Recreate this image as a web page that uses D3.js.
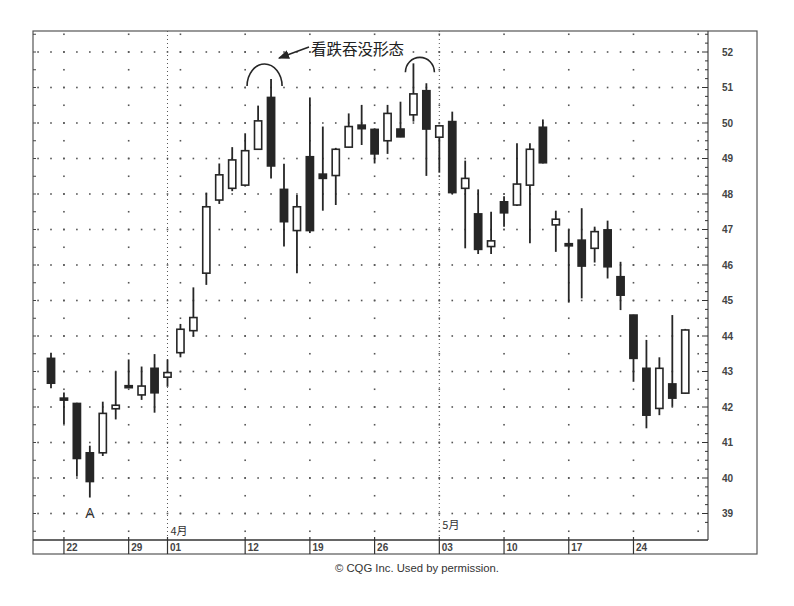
<!DOCTYPE html>
<html lang="zh">
<head>
  <meta charset="utf-8" />
  <title>看跌吞没形态</title>
  <script src="https://d3js.org/d3.v7.min.js"></script>
  <style>
    html, body { margin: 0; padding: 0; background: #fff; }
    svg { display: block; }
  </style>
</head>
<body>
  <svg id="chart" width="794" height="606"></svg>
  <script>
    // trading days (1999), one candle each
    const dates = [
      '3/19', '3/22', '3/23', '3/24', '3/25', '3/26', '3/29', '3/30', '3/31',
      '4/1', '4/5', '4/6', '4/7', '4/8', '4/9', '4/12', '4/13', '4/14', '4/15', '4/16',
      '4/19', '4/20', '4/21', '4/22', '4/23', '4/26', '4/27', '4/28', '4/29', '4/30',
      '5/3', '5/4', '5/5', '5/6', '5/7', '5/10', '5/11', '5/12', '5/13', '5/14',
      '5/17', '5/18', '5/19', '5/20', '5/21', '5/24', '5/25', '5/26', '5/27', '5/28'
    ];
    const open  = [43.37, 42.25, 42.10, 40.71, 40.71, 41.95, 42.60, 42.34, 43.09, 42.84,
                   43.53, 44.15, 45.77, 47.83, 48.16, 48.25, 49.26, 50.72, 48.13, 46.97,
                   49.05, 48.56, 48.52, 49.32, 49.94, 49.82, 49.50, 49.83, 50.23, 50.91,
                   49.60, 50.04, 48.16, 47.44, 46.52, 47.78, 47.69, 48.25, 49.88, 47.13,
                   46.60, 46.70, 46.47, 46.99, 45.67, 44.59, 43.09, 41.96, 42.65, 42.39];
    const high  = [43.53, 42.41, 42.12, 40.91, 42.15, 43.00, 43.34, 43.14, 43.49, 43.34,
                   44.34, 45.37, 48.04, 48.86, 49.32, 49.71, 50.49, 51.24, 48.85, 47.97,
                   50.72, 49.90, 49.30, 50.27, 50.51, 49.85, 50.51, 50.60, 51.68, 51.12,
                   49.95, 50.32, 48.94, 48.13, 47.50, 47.94, 49.43, 49.43, 50.10, 47.53,
                   47.00, 47.60, 47.08, 47.25, 46.09, 44.60, 43.89, 43.40, 44.59, 44.20];
    const low   = [42.53, 41.52, 40.04, 39.45, 40.62, 41.65, 42.57, 42.20, 41.84, 42.57,
                   43.40, 43.98, 45.44, 47.72, 48.08, 48.21, 49.24, 48.44, 46.52, 45.77,
                   46.90, 47.53, 47.69, 49.30, 49.38, 48.86, 49.13, 49.60, 50.04, 48.51,
                   48.60, 48.00, 46.47, 46.31, 46.31, 47.08, 47.66, 46.61, 48.86, 46.37,
                   44.94, 45.06, 46.07, 45.62, 44.73, 42.71, 41.40, 41.77, 42.01, 42.37];
    const close = [42.67, 42.20, 40.55, 39.90, 41.82, 42.05, 42.58, 42.59, 42.40, 42.97,
                   44.19, 44.52, 47.64, 48.54, 48.96, 49.22, 50.06, 48.79, 47.22, 47.64,
                   46.97, 48.44, 49.26, 49.90, 49.84, 49.13, 50.27, 49.61, 50.82, 49.83,
                   49.92, 48.04, 48.44, 46.44, 46.68, 47.47, 48.28, 49.26, 48.88, 47.29,
                   46.54, 45.97, 46.94, 45.95, 45.15, 43.37, 41.77, 43.09, 42.25, 44.17];

    // axis / labels
    const priceTicks = d3.range(39, 53);                 // 39 .. 52
    const weekStarts = ['3/22', '3/29', '4/5', '4/12', '4/19', '4/26', '5/3', '5/10', '5/17', '5/24', '5/31'];
    const dateTicks  = ['3/22', '3/29', '4/1', '4/12', '4/19', '4/26', '5/3', '5/10', '5/17', '5/24'];
    const dateTickLabels = ['22', '29', '01', '12', '19', '26', '03', '10', '17', '24'];
    const monthStarts = ['4/1', '5/3'];
    const monthLabels = ['4月', '5月'];
    const patternPairs = [['4/13', '4/14'], ['4/29', '4/30']];
    const patternLabel = '看跌吞没形态';
    const pointLabel = 'A';
    const pointDate = '3/24';
    const credit = '© CQG Inc. Used by permission.';

    const candles = dates.map((d, i) => ({ date: d, o: open[i], h: high[i], l: low[i], c: close[i] }));

    const svg = d3.select('#chart');
    const ink = '#262626';
    const plot = { left: 33, right: 708, top: 31, bottom: 540 };

    // one extra slot after the last candle (5/31) for the weekly grid
    const x = d3.scalePoint().domain([...dates, '5/31']).range([51, 698.2]);
    const y = d3.scaleLinear().domain([39, 52]).range([513.5, 52]);
    const step = x.step();

    // outer frame
    svg.append('rect')
      .attr('x', 33).attr('y', 31).attr('width', 724).attr('height', 523)
      .attr('fill', 'none').attr('stroke', '#555').attr('stroke-width', 1.2);

    // grid: dotted price rows, one dot per trading day
    const gridX = [x(dates[0]) - step, ...x.domain().map(d => x(d))];
    const grid = svg.append('g').attr('fill', '#555');
    priceTicks.forEach(p => {
      grid.selectAll(null)
        .data(gridX)
        .enter()
        .append('rect')
        .attr('x', d => d - 0.8)
        .attr('y', y(p) - 0.8)
        .attr('width', 1.6)
        .attr('height', 1.6);
    });

    // weekly columns, dots every half point
    const halfSteps = d3.range(38.5, 52.6, 0.5);
    weekStarts.forEach(w => {
      grid.selectAll(null)
        .data(halfSteps)
        .enter()
        .append('rect')
        .attr('x', x(w) - 0.8)
        .attr('y', d => y(d) - 0.8)
        .attr('width', 1.6)
        .attr('height', 1.6);
    });

    // month separators
    svg.selectAll('line.month')
      .data(monthStarts)
      .enter()
      .append('line')
      .attr('x1', d => x(d)).attr('x2', d => x(d))
      .attr('y1', plot.top).attr('y2', plot.bottom)
      .attr('stroke', '#555').attr('stroke-width', 1)
      .attr('stroke-dasharray', '1,3');

    svg.selectAll('text.month')
      .data(monthStarts)
      .enter()
      .append('text')
      .attr('x', d => x(d) + 3)
      .attr('y', (d, i) => i === 0 ? 535 : 529)
      .attr('font-family', '"Noto Sans CJK SC", sans-serif')
      .attr('font-size', 11)
      .attr('fill', '#333')
      .text((d, i) => monthLabels[i]);

    // right price axis
    svg.append('line')
      .attr('x1', plot.right).attr('x2', plot.right)
      .attr('y1', plot.top).attr('y2', plot.bottom)
      .attr('stroke', '#444').attr('stroke-width', 1.2);

    const minorTicks = d3.range(38.75, 52.6, 0.25);
    svg.selectAll('line.ytick')
      .data(minorTicks)
      .enter()
      .append('line')
      .attr('x1', d => plot.right - (Math.abs(d - Math.round(d)) < 0.01 ? 6 : 3))
      .attr('x2', plot.right)
      .attr('y1', d => y(d)).attr('y2', d => y(d))
      .attr('stroke', '#333').attr('stroke-width', 1);

    svg.selectAll('text.ylab')
      .data(priceTicks)
      .enter()
      .append('text')
      .attr('x', 722)
      .attr('y', d => y(d))
      .attr('dy', '0.35em')
      .attr('font-family', '"Liberation Sans", Arial, sans-serif')
      .attr('font-weight', 'bold')
      .attr('font-size', 10)
      .attr('fill', '#444')
      .text(d => d);

    // left edge ticks
    svg.selectAll('line.ltick')
      .data(halfSteps)
      .enter()
      .append('line')
      .attr('x1', plot.left).attr('x2', plot.left + 3)
      .attr('y1', d => y(d)).attr('y2', d => y(d))
      .attr('stroke', '#444').attr('stroke-width', 1);

    // date strip
    svg.append('line')
      .attr('x1', plot.left).attr('x2', plot.right)
      .attr('y1', plot.bottom).attr('y2', plot.bottom)
      .attr('stroke', '#333').attr('stroke-width', 1.3);

    svg.selectAll('line.xtick')
      .data(dateTicks)
      .enter()
      .append('line')
      .attr('x1', d => x(d)).attr('x2', d => x(d))
      .attr('y1', plot.bottom - 3).attr('y2', 554)
      .attr('stroke', '#333').attr('stroke-width', 1.2);

    svg.selectAll('text.xlab')
      .data(dateTicks)
      .enter()
      .append('text')
      .attr('x', d => x(d) + 2.5)
      .attr('y', 551)
      .attr('font-family', '"Liberation Sans", Arial, sans-serif')
      .attr('font-weight', 'bold')
      .attr('font-size', 10)
      .attr('fill', '#444')
      .text((d, i) => dateTickLabels[i]);

    // candles
    const g = svg.append('g');
    g.selectAll('line.wick')
      .data(candles)
      .enter()
      .append('line')
      .attr('x1', d => x(d.date)).attr('x2', d => x(d.date))
      .attr('y1', d => y(d.h)).attr('y2', d => y(d.l))
      .attr('stroke', ink).attr('stroke-width', 1.8);

    g.selectAll('rect.body')
      .data(candles)
      .enter()
      .append('rect')
      .attr('x', d => x(d.date) - 3.6)
      .attr('y', d => y(Math.max(d.o, d.c)))
      .attr('width', 7.2)
      .attr('height', d => Math.max(2, Math.abs(y(d.o) - y(d.c))))
      .attr('fill', d => (d.c > d.o && Math.abs(y(d.o) - y(d.c)) > 2.5) ? '#fff' : ink)
      .attr('stroke', ink)
      .attr('stroke-width', 1.6);

    // "A" marker below the low
    svg.append('text')
      .attr('x', x(pointDate))
      .attr('y', y(low[dates.indexOf(pointDate)]) + 20)
      .attr('text-anchor', 'middle')
      .attr('font-family', '"Liberation Sans", Arial, sans-serif')
      .attr('font-size', 14)
      .attr('fill', '#333')
      .text(pointLabel);

    // arcs over the two engulfing patterns
    const arcs = patternPairs.map(([a, b], k) => {
      const cx = (x(a) + x(b)) / 2;
      const peak = Math.max(high[dates.indexOf(a)], high[dates.indexOf(b)]);
      const top = y(peak) - (k === 0 ? 15 : 6);
      const rx = k === 0 ? 17.5 : 14.5;
      const ry = k === 0 ? 22 : 15;
      return { cx, top, rx, ry };
    });
    svg.selectAll('path.arc')
      .data(arcs)
      .enter()
      .append('path')
      .attr('d', d => `M${d.cx - d.rx},${d.top + d.ry} A${d.rx},${d.ry} 0 0 1 ${d.cx + d.rx},${d.top + d.ry}`)
      .attr('fill', 'none')
      .attr('stroke', ink)
      .attr('stroke-width', 1.6);

    // annotation label with arrow
    svg.append('defs').append('marker')
      .attr('id', 'head')
      .attr('viewBox', '0 0 10 10')
      .attr('refX', 9).attr('refY', 5)
      .attr('markerWidth', 7).attr('markerHeight', 7)
      .attr('orient', 'auto')
      .append('path')
      .attr('d', 'M0,1 L10,5 L0,9 Z')
      .attr('fill', ink);

    svg.append('line')
      .attr('x1', 309).attr('y1', 47)
      .attr('x2', 279).attr('y2', 58)
      .attr('stroke', ink).attr('stroke-width', 1.6)
      .attr('marker-end', 'url(#head)');

    svg.append('text')
      .attr('x', 311)
      .attr('y', 55)
      .attr('font-family', '"Noto Sans CJK SC", sans-serif')
      .attr('font-size', 15.5)
      .attr('fill', '#222')
      .text(patternLabel);

    // credit line
    svg.append('text')
      .attr('x', 417)
      .attr('y', 572)
      .attr('text-anchor', 'middle')
      .attr('font-family', '"Liberation Sans", Arial, sans-serif')
      .attr('font-size', 11.3)
      .attr('fill', '#333')
      .text(credit);
  </script>
</body>
</html>
